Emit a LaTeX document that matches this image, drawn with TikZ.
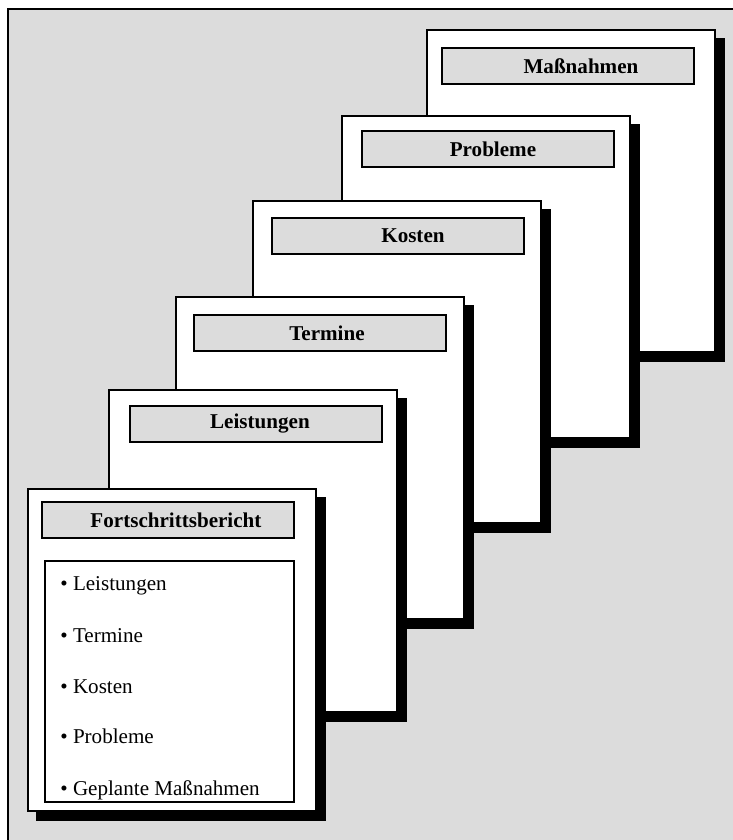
\documentclass[tikz,border=0pt]{standalone}
\usepackage{fontspec}
\setmainfont{Liberation Serif}
\usepackage{xcolor}
\usepackage{tikz}
\usetikzlibrary{positioning}
\definecolor{panelGray}{HTML}{DCDCDC}

\tikzset{
  sheet/.style={draw, line width=1pt, fill=white, anchor=north west,
    inner sep=0pt, outer sep=0pt, minimum width=5.76cm, minimum height=6.44cm},
  hdr/.style={draw, line width=1pt, fill=panelGray, anchor=north west,
    inner sep=0pt, outer sep=0pt, minimum width=5.04cm, minimum height=0.72cm},
  hdrtext/.style={inner sep=0pt, font=\fontsize{12}{14}\selectfont\bfseries},
  listbox/.style={draw, line width=1pt, fill=white, anchor=north west,
    inner sep=0pt, outer sep=0pt, minimum width=4.98cm, minimum height=4.82cm}
}

\begin{document}
\begin{tikzpicture}[x=0.02cm, y=-0.02cm, font=\fontsize{12}{14}\selectfont]
    \useasboundingbox (0,0) rectangle (733,840);
    \clip (0,0) rectangle (733,840);
    % panel
    \fill[panelGray] (8,9) rectangle (745,850);
    \draw[line width=1.3pt] (8,850) -- (8,9) -- (745,9);

    % stacked sheets, back to front
    \foreach \n/\x/\y/\hx/\hy/\tx/\lbl in {
        6/427/30/15/18/13/Maßnahmen,
        5/342/116/20/15/5/Probleme,
        4/253/201/19/17/15/Kosten,
        3/176/297/18/18/7/Termine,
        2/109/390/21/16/4/Leistungen,
        1/28/489/14/13/8/Fortschrittsbericht} {
      \fill (\x+8,\y+8) rectangle (\x+298,\y+332);
      \node[sheet] (s\n) at (\x,\y) {};
      \node[hdr] (h\n) at ([xshift={\hx*0.02cm}, yshift={-\hy*0.02cm}]s\n.north west) {};
      \node[hdrtext] (t\n) at ([xshift={\tx*0.02cm}]h\n.center) {\lbl};
    }

    % contents of the front sheet
    \node[listbox] (list) at (45,561) {};
    \foreach \i/\yy/\item in {1/590/Leistungen, 2/642/Termine, 3/693/Kosten,
        4/743/Probleme, 5/795/Geplante Maßnahmen}
      \node[anchor=base west, inner sep=0pt] (item\i) at (60,\yy) {\textbullet\ \item};
\end{tikzpicture}
\end{document}
